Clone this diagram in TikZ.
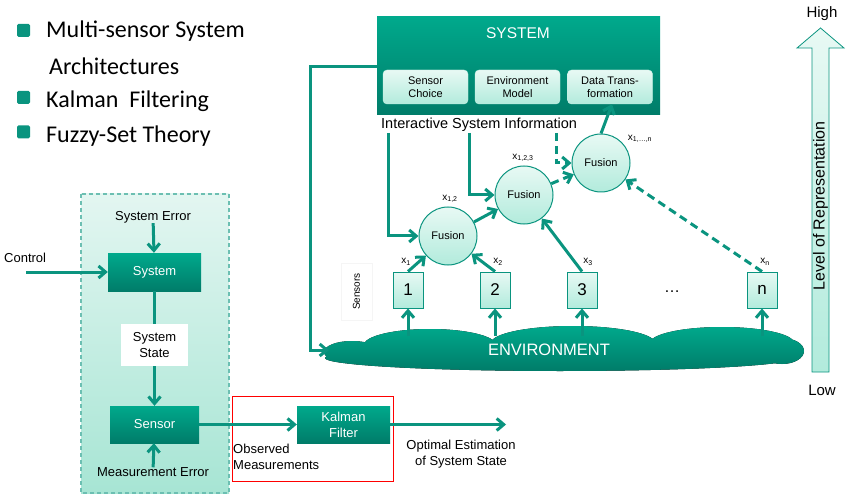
\documentclass[tikz,border=0pt]{standalone}
\usepackage{fontspec}
\setmainfont{Liberation Sans}
\newfontfamily\bulletfont{Carlito}
\usetikzlibrary{positioning,arrows.meta}

\definecolor{tealtop}{HTML}{00A98C}
\definecolor{tealbot}{HTML}{007C69}
\definecolor{tealline}{HTML}{0A947F}
\definecolor{litetop}{HTML}{E8F9F4}
\definecolor{litebot}{HTML}{B2EBDC}
\definecolor{paneltop}{HTML}{E3F6F1}
\definecolor{panelbot}{HTML}{A7E5D4}

\tikzset{
  fs/.style 2 args={font=\fontsize{#1}{#2}\selectfont},
  darkbox/.style={top color=tealtop, bottom color=tealbot, text=white, inner sep=0pt, align=center},
  subbox/.style={rounded corners=4pt, top color=litetop, bottom color=litebot, draw=litebot!70!white,
    minimum width=85pt, minimum height=34pt, inner sep=0pt, align=center, fs={11}{13}},
  fusion/.style={circle, draw=tealline, line width=1pt, top color=litetop, bottom color=litebot,
    minimum size=58pt, inner sep=0pt, fs={11}{13}},
  sensorbox/.style={draw=tealline, line width=1pt, top color=litetop, bottom color=litebot,
    minimum width=30pt, minimum height=36pt, inner sep=0pt, fs={17}{20}},
  flow/.style={draw=tealline, line width=3pt, -{Straight Barb[length=7pt,width=12pt]}},
  plain/.style={draw=tealline, line width=3pt},
  xlbl/.style={inner sep=0pt, fs={10}{12}},
  lbl/.style={inner sep=0pt, align=center, fs={13}{16}},
  bullet/.style={fill=tealline, rounded corners=1.5pt, minimum size=13pt, inner sep=0pt},
  bullettext/.style={inner sep=0pt, anchor=west, font=\bulletfont\fontsize{24}{28}\selectfont}
}

\begin{document}
\begin{tikzpicture}[x=1pt,y=-1pt]
\useasboundingbox (0,0) rectangle (846,497);

% topics
\node[bullet] (b1) at (23.5,30.5) {};
\node[bullet] (b2) at (23.5,97.5) {};
\node[bullet] (b3) at (23.5,132) {};
\node[bullettext] (t1) at (46,31) {Multi-sensor System};
\node[bullettext] (t1b) at (49,66) {Architectures};
\node[bullettext] (t2) at (46,101) {Kalman\ \ Filtering};
\node[bullettext] (t3) at (46,136) {Fuzzy-Set Theory};

% Kalman filter panel
\draw[draw=tealline!60, line width=1.2pt, dash pattern=on 4pt off 3pt, top color=paneltop, bottom color=panelbot]
  (81,194) rectangle (229,493);
\node[lbl] (syserr) at (153,217) {System Error};
\node[darkbox, minimum width=93pt, minimum height=38pt, fs={13}{16}] (sys) at (154.5,272) {System};
\node[lbl, anchor=west] (control) at (4,258) {Control};
\coordinate (ctl) at (26,272);
\node[lbl, fill=white, minimum width=67pt, minimum height=42pt] (state) at (154.5,345) {System\\State};
\node[darkbox, minimum width=89pt, minimum height=37pt, fs={13}{16}] (sensor) at (154.5,424.5) {Sensor};
\node[lbl] (measerr) at (153,472) {Measurement Error};
\node[darkbox, minimum width=93pt, minimum height=37pt, fs={13}{16}] (kalman) at (343.5,424.5) {Kalman\\Filter};
\node[lbl, anchor=west, align=left] (observed) at (233,457) {Observed\\Measurements};
\node[lbl] (optimal) at (461,454) {Optimal Estimation\\of System State};
\coordinate (out) at (506,424.5);
\draw[red, line width=0.8pt] (232,396) rectangle (393,481);

\draw[flow] (syserr) -- (sys);
\draw[flow] (ctl) -- (sys);
\draw[plain] (sys) -- (state);
\draw[flow] (state) -- (sensor);
\draw[flow] (measerr) -- (sensor);
\draw[flow] (sensor) -- (kalman);
\draw[flow] (kalman) -- (out);

% environment cloud
\fill[top color=tealtop, bottom color=tealbot]
  (430,345) ellipse [x radius=66, y radius=16]
  (573,343) ellipse [x radius=82, y radius=17]
  (722,343) ellipse [x radius=72, y radius=16]
  (560,358) ellipse [x radius=235, y radius=13]
  (352,352) ellipse [x radius=28, y radius=11]
  (782,351) ellipse [x radius=22, y radius=13];
\node[text=white, fs={16.5}{19}, inner sep=0pt] (env) at (549,350) {ENVIRONMENT};
\coordinate (ground) at (0,336);
\coordinate (envin) at (329,350);

% system block
\node[darkbox, minimum width=283pt, minimum height=98pt] (sysbig) at (518.5,66) {};
\node[text=white, fs={15.5}{18}, inner sep=0pt] (systitle) at (518,33) {SYSTEM};
\node[subbox] (choice) at (425.5,87) {Sensor\\Choice};
\node[subbox] (model) at (517.5,87) {Environment\\Model};
\node[subbox] (transf) at (610,87) {Data Trans-\\formation};
\node[inner sep=0pt, anchor=west, fs={14.5}{17}] (info) at (381,125) {Interactive System Information};

% fusion tree
\node[fusion] (f1) at (448,236) {Fusion};
\node[fusion] (f2) at (524,195) {Fusion};
\node[fusion] (f3) at (601,163) {Fusion};
\node[xlbl] at (450,199) {x\textsubscript{1,2}};
\node[xlbl] at (523,158) {x\textsubscript{1,2,3}};
\node[xlbl] at (640,139) {x\textsubscript{1,\dots,n}};

\node[sensorbox] (s1) at (408,290) {1};
\node[sensorbox] (s2) at (495,290) {2};
\node[sensorbox] (s3) at (582,290) {3};
\node[sensorbox] (sn) at (762,290) {n};
\node[fs={16}{19}, inner sep=0pt] (dots) at (672,292) {\dots};
\node[xlbl] at (406,262) {x\textsubscript{1}};
\node[xlbl] at (498,262) {x\textsubscript{2}};
\node[xlbl] at (588,262) {x\textsubscript{3}};
\node[xlbl] at (765,262) {x\textsubscript{n}};
\node[draw=black!4, fill=white, rotate=90, minimum width=57pt, minimum height=31pt, inner sep=0pt, fs={10}{12}] (sensors) at (356.5,291.5) {Sensors};

\coordinate (i1) at (388,133);
\coordinate (i2) at (469,133);
\coordinate (i3) at (556,133);
\draw[flow] (i1) |- (f1);
\draw[flow] (i2) |- (f2);
\draw[flow, dash pattern=on 8pt off 5pt] (i3) |- (f3);
\draw[flow] (f1) -- (f2);
\draw[flow, dash pattern=on 8pt off 5pt] (f2) -- (f3);
\draw[flow] (f3.north) -- ([xshift=2pt]transf.south);
\draw[flow] (s1.north) -- (f1);
\draw[flow] (s2.north) -- (f1);
\draw[flow] (s3.north) -- (f2);
\draw[flow, dash pattern=on 8pt off 5pt] (sn.north) -- (f3);
\draw[flow] (s1 |- ground) -- (s1.south);
\draw[flow] (s2 |- ground) -- (s2.south);
\draw[flow] (s3 |- ground) -- (s3.south);
\draw[flow] (sn |- ground) -- (sn.south);
\draw[flow] (sysbig.west |- 0,67) -| (310,350) -- (envin);

% level of representation
\draw[draw=tealline, line width=0.8pt, top color=litetop, bottom color=litebot]
  (812,372) -- (812,48) -- (797,48) -- (820.5,28) -- (844,48) -- (829,48) -- (829,372) -- cycle;
\node[rotate=90, fs={16}{19}, inner sep=0pt] (level) at (820.5,206) {Level of Representation};
\node[fs={15}{18}, inner sep=0pt] (high) at (822,14) {High};
\node[fs={15}{18}, inner sep=0pt] (low) at (822,390) {Low};
\end{tikzpicture}
\end{document}
